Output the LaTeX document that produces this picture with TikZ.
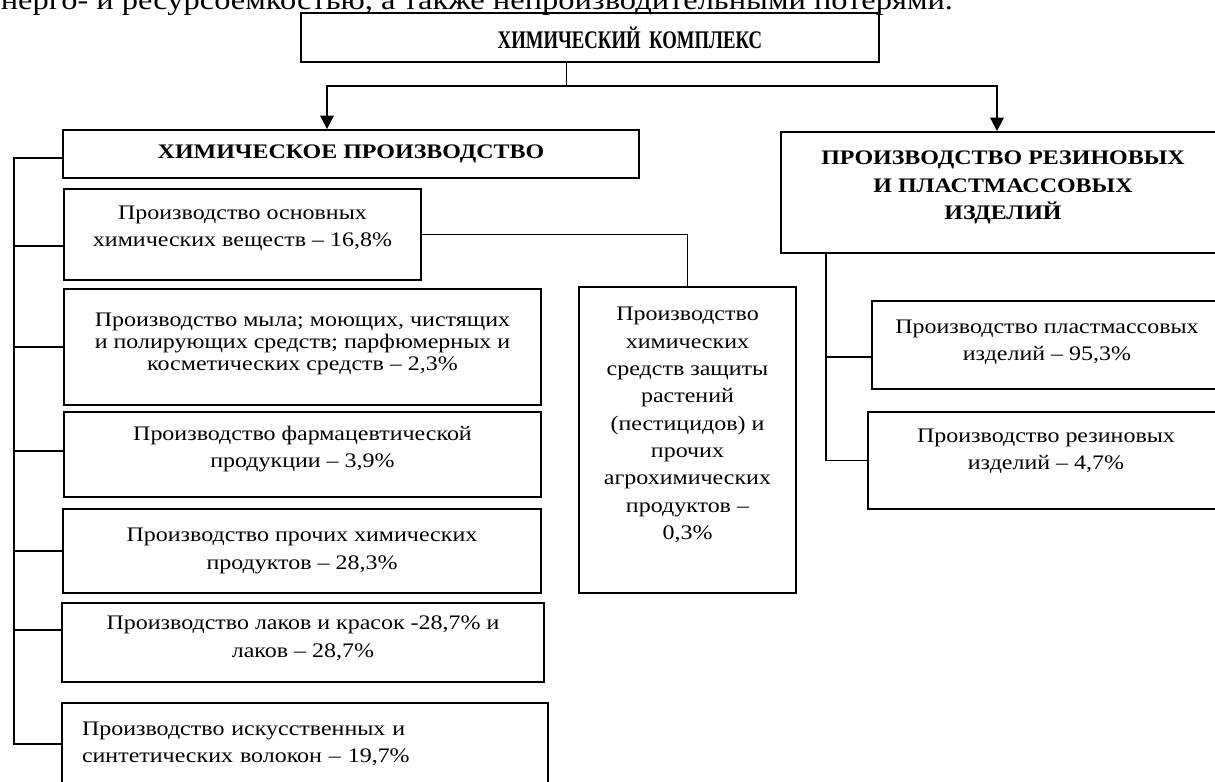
\documentclass[tikz,border=0pt]{standalone}
\usepackage{fontspec}
\setmainfont{Liberation Serif}[FakeStretch=1.16]
\newfontfamily\titlefont{Liberation Serif}[FakeStretch=0.74]
\usetikzlibrary{arrows.meta}
\newcommand{\pxu}{0.75pt}

\begin{document}
\begin{tikzpicture}[x=0.75pt, y=-0.75pt, >={Triangle[width=10pt,length=10pt]}, line width=1.4pt]
  \tikzset{
    blk/.style={draw, align=center, inner sep=2pt, font=\fontsize{15.5}{20.5}\selectfont},
    head/.style={blk, font=\fontsize{15.5}{20.5}\selectfont\bfseries}
  }
  \useasboundingbox (0,0) rectangle (1215,782);
  \clip (0,0) rectangle (1215,782);
  \fill[white] (0,0) rectangle (1215,782);

  % end of the line above the figure
  \node[anchor=base east, inner sep=0pt, font=\fontsize{21}{24}\selectfont] (prev) at (954,9)
    {энерго- и ресурсоемкостью, а также непроизводительными потерями.};

  \node[blk, font=\titlefont\fontsize{19}{22}\selectfont\bfseries, text width={572*\pxu}, minimum height={49*\pxu}] (top) at (590,37.5)
    {\hspace*{60pt}ХИМИЧЕСКИЙ КОМПЛЕКС};

  \node[head, minimum width={576*\pxu}, minimum height={48*\pxu}] (chem) at (351,154) {ХИМИЧЕСКОЕ ПРОИЗВОДСТВО};
  \node[head, minimum width={444*\pxu}, minimum height={121*\pxu}, text depth=11pt] (rubplast) at (1003,192.5)
    {ПРОИЗВОДСТВО РЕЗИНОВЫХ\\И ПЛАСТМАССОВЫХ\\ИЗДЕЛИЙ};

  \node[blk, minimum width={357*\pxu}, minimum height={91*\pxu}, text depth=12pt] (b1) at (242.5,234.5)
    {Производство основных\\химических веществ – 16,8\%};
  \node[blk, font=\fontsize{15.5}{16.5}\selectfont, minimum width={477*\pxu}, minimum height={116*\pxu}, text depth=8pt] (b2) at (302.5,347)
    {Производство мыла; моющих, чистящих\\и полирующих средств; парфюмерных и\\косметических средств – 2,3\%};
  \node[blk, minimum width={477*\pxu}, minimum height={85*\pxu}, text depth=12pt] (b3) at (302.5,454.5)
    {Производство фармацевтической\\продукции – 3,9\%};
  \node[blk, minimum width={478*\pxu}, minimum height={84*\pxu}] (b4) at (302,551)
    {Производство прочих химических\\продуктов – 28,3\%};
  \node[blk, minimum width={482*\pxu}, minimum height={79*\pxu}, text depth=9pt] (b5) at (303,642.5)
    {Производство лаков и красок -28,7\% и\\лаков – 28,7\%};
  \node[blk, align=left, text width={446*\pxu}, inner xsep={20*\pxu}, minimum height={82*\pxu}] (b6) at (305,744)
    {Производство искусственных и\\синтетических волокон – 19,7\%};

  \node[blk, minimum width={217*\pxu}, minimum height={306*\pxu}, text depth=25pt] (pest) at (687.5,440)
    {Производство\\химических\\средств защиты\\растений\\(пестицидов) и\\прочих\\агрохимических\\продуктов –\\0,3\%};

  \node[blk, minimum width={350*\pxu}, minimum height={88*\pxu}, text depth=7pt] (plast) at (1047,345)
    {Производство пластмассовых\\изделий – 95,3\%};
  \node[blk, minimum width={356*\pxu}, minimum height={97*\pxu}, text depth=17pt] (rub) at (1046,460.5)
    {Производство резиновых\\изделий – 4,7\%};

  % from the top box down to both branches
  \coordinate (fork) at (566,86);
  \coordinate (forkL) at (327,86);
  \coordinate (forkR) at (997,86);
  \draw[line width=0.7pt] (top.south -| fork) -- (fork);
  \draw[->] (fork) -| (chem.north -| forkL);
  \draw[->] (fork) -| (rubplast.north -| forkR);

  % left bus of the chemical branch
  \coordinate (busL) at (14,0);
  \draw ([yshift=-3pt]chem.west) -| (b6.west -| busL) -- (b6.west);
  \foreach \b/\dy in {b1/-8.6pt, b2/0pt, b3/2.6pt, b4/0pt, b5/9.4pt}
    \draw ([yshift=\dy]\b.west) -- ([yshift=\dy]\b.west -| busL);

  % side box
  \draw (b1.east) -| (pest.north);

  % right bus
  \coordinate (busR) at (826,0);
  \draw (rubplast.south -| busR) |- (rub.west);
  \draw ([yshift=-9pt]plast.west) -- ([yshift=-9pt]plast.west -| busR);
\end{tikzpicture}
\end{document}
